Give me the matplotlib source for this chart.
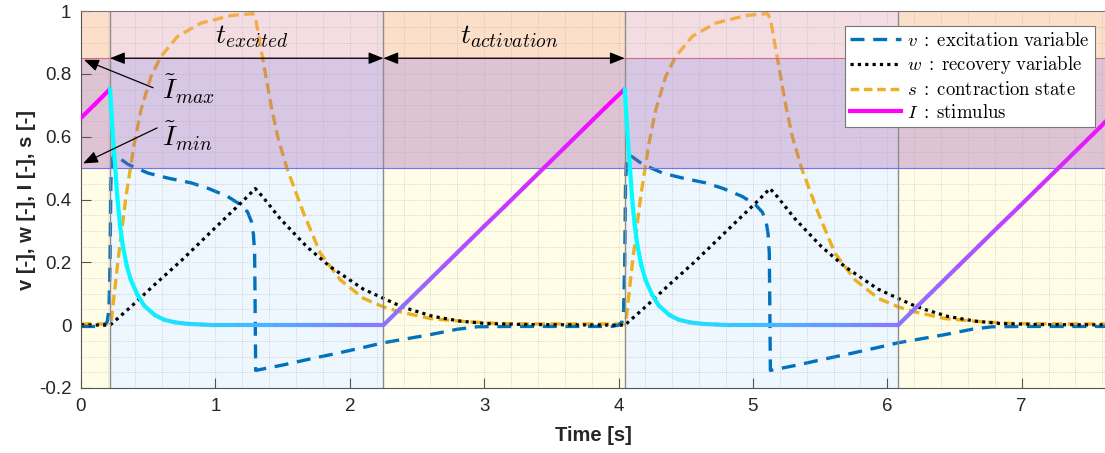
import numpy as np
import matplotlib
matplotlib.use("Agg")
import matplotlib.pyplot as plt
from matplotlib.collections import LineCollection
from matplotlib.lines import Line2D
from matplotlib.patches import Rectangle
from matplotlib.ticker import MultipleLocator, FuncFormatter

plt.rcParams['font.family'] = ['Liberation Sans', 'DejaVu Sans']
plt.rcParams['mathtext.fontset'] = 'cm'
plt.rcParams['axes.unicode_minus'] = False

# phases of the cycle (s) and stimulus thresholds
band_edges = [0.0, 0.216, 2.25, 4.046, 6.08, 7.65]
band_phase = ['activation', 'excited', 'activation', 'excited', 'activation']
i_min, i_max = 0.5, 0.85
period = 3.83

# v : excitation variable
v_t = [0.0, 0.12, 0.17, 0.195, 0.208, 0.216, 0.222, 0.23, 0.245, 0.275, 0.35, 0.5,
       0.65, 0.82, 0.95, 1.09, 1.19, 1.24, 1.268, 1.283, 1.292, 1.297, 1.300, 1.5,
       1.7, 1.9, 2.1, 2.25, 2.4, 2.6, 2.8, 2.95, 3.2, 3.6,
       3.95, 4.0, 4.025, 4.038, 4.046, 4.052, 4.06, 4.075, 4.105, 4.18, 4.33,
       4.48, 4.65, 4.78, 4.92, 5.02, 5.07, 5.098, 5.113, 5.122, 5.127, 5.130, 5.33,
       5.53, 5.73, 5.93, 6.08, 6.23, 6.43, 6.63, 6.78, 7.03, 7.43, 7.65]
v_val = [-0.004, -0.004, 0.0, 0.01, 0.05, 0.2, 0.45, 0.525, 0.542, 0.535, 0.512, 0.484,
         0.468, 0.453, 0.435, 0.41, 0.383, 0.36, 0.33, 0.29, 0.23, 0.0, -0.144, -0.127,
         -0.108, -0.090, -0.071, -0.056, -0.045, -0.030, -0.013, -0.005, -0.004, -0.004,
         -0.004, 0.0, 0.01, 0.05, 0.2, 0.45, 0.525, 0.542, 0.535, 0.512, 0.484,
         0.468, 0.453, 0.435, 0.41, 0.383, 0.36, 0.33, 0.29, 0.23, 0.0, -0.144, -0.127,
         -0.108, -0.090, -0.071, -0.056, -0.045, -0.030, -0.013, -0.005, -0.004, -0.004, -0.004]

# w : recovery variable
w_t = [0.0, 0.216, 0.37, 0.55, 0.745, 0.95, 1.1, 1.2, 1.297, 1.35, 1.48, 1.68, 1.855,
       2.1, 2.35, 2.45, 2.62, 2.82, 3.02, 3.3, 3.7,
       4.046, 4.2, 4.38, 4.575, 4.78, 4.93, 5.03, 5.127, 5.18, 5.31, 5.51, 5.685,
       5.93, 6.18, 6.28, 6.45, 6.65, 6.85, 7.13, 7.53, 7.65]
w_val = [0.001, 0.0, 0.058, 0.13, 0.205, 0.29, 0.352, 0.393, 0.435, 0.41, 0.34, 0.25, 0.186,
         0.115, 0.066, 0.05, 0.028, 0.013, 0.005, 0.002, 0.001,
         0.0, 0.058, 0.13, 0.205, 0.29, 0.352, 0.393, 0.435, 0.41, 0.34, 0.25, 0.186,
         0.115, 0.066, 0.05, 0.028, 0.013, 0.005, 0.002, 0.001, 0.001]

# s : contraction state
s_t = [0.0, 0.216, 0.225, 0.24, 0.273, 0.335, 0.397, 0.447, 0.521, 0.596, 0.72, 0.894,
       1.118, 1.279, 1.30, 1.354, 1.416, 1.465, 1.532, 1.657, 1.781, 1.93, 2.104, 2.253,
       2.377, 2.6, 2.874, 3.12, 3.5,
       4.046, 4.055, 4.07, 4.103, 4.165, 4.227, 4.277, 4.351, 4.426, 4.55, 4.724,
       4.948, 5.109, 5.13, 5.184, 5.246, 5.295, 5.362, 5.487, 5.611, 5.76, 5.934, 6.083,
       6.207, 6.43, 6.704, 6.95, 7.33, 7.65]
s_val = [0.004, 0.004, 0.01, 0.07, 0.197, 0.41, 0.58, 0.686, 0.792, 0.856, 0.92, 0.962,
         0.986, 0.992, 0.975, 0.845, 0.696, 0.598, 0.50, 0.356, 0.229, 0.144, 0.085, 0.058,
         0.042, 0.021, 0.011, 0.005, 0.004,
         0.004, 0.01, 0.07, 0.197, 0.41, 0.58, 0.686, 0.792, 0.856, 0.92, 0.962,
         0.986, 0.992, 0.975, 0.845, 0.696, 0.598, 0.50, 0.356, 0.229, 0.144, 0.085, 0.058,
         0.042, 0.021, 0.011, 0.005, 0.004, 0.004]

# I : stimulus
I_t = [0.0, 0.1, 0.216, 0.225, 0.235, 0.25, 0.27, 0.29, 0.31, 0.34, 0.37, 0.42, 0.47,
       0.55, 0.62, 0.7, 0.8, 0.9, 1.0, 1.15, 1.3, 1.45, 1.6, 1.75, 1.9, 2.05, 2.25,
       2.4, 2.55, 2.7, 2.85, 3.0, 3.15, 3.3, 3.45, 3.6, 3.75, 3.9, 4.046,
       4.055, 4.065, 4.08, 4.10, 4.12, 4.14, 4.17, 4.20, 4.25, 4.30, 4.38, 4.45, 4.53,
       4.63, 4.73, 4.83, 5.0, 5.15, 5.3, 5.45, 5.6, 5.75, 5.9, 6.08,
       6.23, 6.38, 6.53, 6.68, 6.83, 6.98, 7.13, 7.28, 7.43, 7.58, 7.65]
I_val = [0.66, 0.702, 0.752, 0.69, 0.62, 0.53, 0.41, 0.32, 0.255, 0.19, 0.145, 0.097, 0.062,
         0.032, 0.017, 0.009, 0.004, 0.002, 0.0, 0.0, 0.0, 0.0, 0.0, 0.0, 0.0, 0.0, 0.0,
         0.063, 0.126, 0.189, 0.252, 0.315, 0.377, 0.440, 0.503, 0.566, 0.629, 0.692, 0.752,
         0.69, 0.62, 0.53, 0.41, 0.32, 0.255, 0.19, 0.145, 0.097, 0.062, 0.032, 0.017, 0.009,
         0.004, 0.002, 0.0, 0.0, 0.0, 0.0, 0.0, 0.0, 0.0, 0.0, 0.0,
         0.063, 0.126, 0.189, 0.252, 0.315, 0.377, 0.440, 0.503, 0.566, 0.629, 0.66]

base_col = {'activation': '#fffde6', 'excited': '#eef6fe'}
mid_col = {'activation': '#913fa8', 'excited': '#a55dae'}
top_col = {'activation': '#f89c87', 'excited': '#ffa6a7'}

fig = plt.figure(figsize=(11.05, 4.53), dpi=100)
ax = fig.add_axes([0.0733, 0.1435, 0.9267, 0.832])

for x0, x1, ph in zip(band_edges[:-1], band_edges[1:], band_phase):
    ax.axvspan(x0, x1, color=base_col[ph], lw=0, zorder=0.2)
    ax.add_patch(Rectangle((x0, i_min), x1 - x0, i_max - i_min, fc=mid_col[ph],
                           alpha=0.3, lw=0, zorder=1.0))
    ax.add_patch(Rectangle((x0, i_max), x1 - x0, 1.0 - i_max, fc=top_col[ph],
                           alpha=0.3, lw=0, zorder=1.0))
for x in band_edges[1:-1]:
    ax.axvline(x, color='#8c8c8c', lw=1.0, zorder=1.2)
ax.axhline(i_max, color='#e0607a', lw=0.8, zorder=1.2)
ax.axhline(i_min, color='#6a6aff', lw=0.8, zorder=1.2)

ax.plot(s_t, s_val, color='#EDB120', lw=2.4, dashes=(3.2, 1.6), zorder=0.5)
ax.plot(v_t, v_val, color='#0072BD', lw=2.4, dashes=(4.2, 2.6), zorder=0.6)
ax.plot(w_t, w_val, color='k', lw=2.3, ls=(0, (1, 1.3)), zorder=0.7)

# stimulus coloured by its phase in the cycle: cyan -> blue -> magenta
pts = np.column_stack([I_t, I_val])
segs = np.stack([pts[:-1], pts[1:]], axis=1)
mid_t = 0.5 * (np.array(I_t[:-1]) + np.array(I_t[1:]))
p = ((mid_t - band_edges[1]) % period) / period
cols = np.column_stack([p, 1 - p, np.ones_like(p)])
ax.add_collection(LineCollection(segs, colors=cols, linewidths=3.0,
                                 capstyle='round', joinstyle='round', zorder=3))

# phase durations
head = dict(color='k', lw=0.9, shrinkA=0, shrinkB=0, mutation_scale=20)
ax.annotate('', xy=(band_edges[1], i_max), xytext=(band_edges[2], i_max),
            arrowprops=dict(arrowstyle='<|-|>,head_length=0.45,head_width=0.18', **head), zorder=4)
ax.annotate('', xy=(band_edges[2], i_max), xytext=(band_edges[3], i_max),
            arrowprops=dict(arrowstyle='<|-|>,head_length=0.45,head_width=0.18', **head), zorder=4)
ax.text(1.27, 0.92, r'$t_{excited}$', fontsize=20, ha='center', va='center', zorder=4)
ax.text(3.19, 0.92, r'$t_{activation}$', fontsize=20, ha='center', va='center', zorder=4)

ax.annotate('', xy=(0.022, 0.845), xytext=(0.536, 0.756),
            arrowprops=dict(arrowstyle='-|>,head_length=0.45,head_width=0.18', **head), zorder=4)
ax.annotate('', xy=(0.015, 0.515), xytext=(0.566, 0.628),
            arrowprops=dict(arrowstyle='-|>,head_length=0.45,head_width=0.18', **head), zorder=4)
ax.text(0.60, 0.752, r'$\tilde{I}_{max}$', fontsize=20, ha='left', va='center', zorder=4)
ax.text(0.60, 0.60, r'$\tilde{I}_{min}$', fontsize=20, ha='left', va='center', zorder=4)

ax.set_xlim(0, 7.62)
ax.set_ylim(-0.2, 1.0)
ax.xaxis.set_major_locator(MultipleLocator(1))
ax.xaxis.set_minor_locator(MultipleLocator(0.2))
ax.yaxis.set_major_locator(MultipleLocator(0.2))
ax.yaxis.set_minor_locator(MultipleLocator(0.05))
ax.yaxis.set_major_formatter(FuncFormatter(lambda y, _: f'{y:g}'))
ax.set_axisbelow('line')
ax.grid(which='both', ls=':', color='#a0a0a0', lw=0.6, alpha=0.55)
ax.tick_params(which='major', direction='in', length=7, width=0.8, color='#555555',
               labelcolor='#262626', labelsize=13.5, pad=7)
ax.tick_params(which='minor', length=0)
for side in ['left', 'bottom']:
    ax.spines[side].set_color('#555555')
ax.spines['top'].set_color('#777777')
ax.spines['right'].set_visible(False)

ax.set_xlabel('Time [s]', fontsize=14.5, fontweight='bold', color='#262626', labelpad=8)
ax.set_ylabel('v [-], w [-], I [-], s [-]', fontsize=14.5, fontweight='bold',
              color='#262626', labelpad=2)

handles = [
    Line2D([], [], color='#0072BD', lw=2.4, dashes=(4.2, 2.6)),
    Line2D([], [], color='k', lw=2.3, ls=(0, (1, 1.3))),
    Line2D([], [], color='#EDB120', lw=2.4, dashes=(2.6, 1.4)),
    Line2D([], [], color='#ff00ff', lw=3.0),
]
labels = [r'$v\;:\;\mathrm{excitation\ variable}$',
          r'$w\;:\;\mathrm{recovery\ variable}$',
          r'$s\;:\;\mathrm{contraction\ state}$',
          r'$I\;:\;\mathrm{stimulus}$']
leg = ax.legend(handles, labels, loc='upper right', bbox_to_anchor=(0.99, 0.96),
                borderaxespad=0, fontsize=13.5, handlelength=2.7, handletextpad=0.3,
                labelspacing=0.25, borderpad=0.3, fancybox=False, framealpha=1,
                edgecolor='#777777')
leg.get_frame().set_linewidth(0.8)
leg.set_zorder(5)

fig.savefig('out.png', dpi=100)
